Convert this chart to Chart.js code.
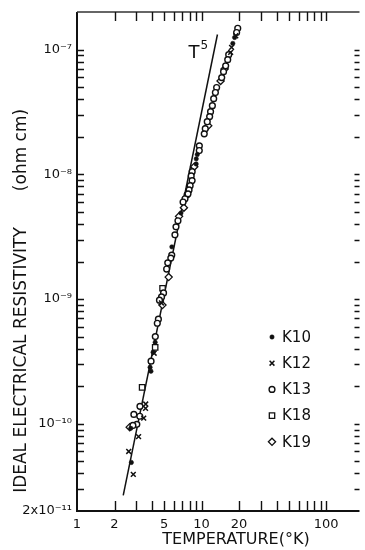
<!DOCTYPE html>
<html><head><meta charset="utf-8">
<script src="https://cdn.jsdelivr.net/npm/chart.js@4.4.1/dist/chart.umd.min.js"></script>
<style>html,body{margin:0;padding:0;background:#fff;overflow:hidden}canvas{display:block}</style>
</head><body>
<canvas id="c" width="365" height="550"></canvas>
<script>
// ---- data (temperature in K, ideal resistivity in ohm cm) ----
const seriesNames = ['K10', 'K12', 'K13', 'K18', 'K19'];

const k10T   = [18.4, 17.8, 9.23, 9.06, 9.05, 6.83, 5.77, 4.24, 4.08, 3.86, 3.92, 2.70, 2.73];
const k10Rho = [1.25e-7, 1.12e-7, 1.44e-8, 1.33e-8, 1.21e-8, 4.9e-9, 2.62e-9, 4.5e-10, 3.75e-10, 2.84e-10, 2.64e-10, 9.2e-11, 4.9e-11];

const k12T   = [18.8, 17.4, 17.1, 4.76, 4.16, 3.56, 3.55, 3.43, 3.12, 2.60, 2.83];
const k12Rho = [1.29e-7, 1.04e-7, 9.5e-8, 9.3e-10, 3.68e-10, 1.44e-10, 1.33e-10, 1.11e-10, 7.9e-11, 6.0e-11, 3.93e-11];

const k13T   = [19.5, 19.1, 16.5, 16.2, 15.6, 15.0, 14.5, 13.2, 12.9, 12.5, 12.2, 11.8, 11.6, 11.1, 10.7, 10.5,
                9.59, 9.58, 8.40, 8.25, 8.39, 8.09, 7.93, 7.65, 7.36, 7.78, 7.10, 6.46, 6.23, 6.11, 5.76, 5.66,
                5.35, 5.24, 4.95, 4.77, 4.59, 4.50, 4.41, 4.25, 3.93, 3.20, 2.86, 3.19, 3.02, 2.81];
const k13Rho = [1.48e-7, 1.37e-7, 9.1e-8, 8.3e-8, 7.4e-8, 6.65e-8, 5.96e-8, 4.96e-8, 4.52e-8, 4.04e-8, 3.55e-8, 3.18e-8, 2.90e-8, 2.64e-8, 2.32e-8, 2.11e-8,
                1.69e-8, 1.55e-8, 1.05e-8, 9.7e-9, 8.9e-9, 8.1e-9, 7.5e-9, 6.85e-9, 6.36e-9, 6.97e-9, 6.0e-9, 4.24e-9, 3.79e-9, 3.27e-9, 2.25e-9, 2.13e-9,
                1.95e-9, 1.74e-9, 1.12e-9, 1.04e-9, 9.8e-10, 6.9e-10, 6.4e-10, 5.0e-10, 3.18e-10, 1.38e-10, 1.19e-10, 1.15e-10, 9.9e-11, 9.7e-11];

const k18T   = [4.86, 4.24, 3.33];
const k18Rho = [1.22e-9, 4.1e-10, 1.96e-10];

const k19T   = [2.65, 15.3, 14.2, 11.3, 8.73, 7.21, 6.59, 5.44, 4.85];
const k19Rho = [9.4e-11, 7.0e-8, 5.6e-8, 2.45e-8, 1.15e-8, 5.4e-9, 4.6e-9, 1.5e-9, 8.95e-10];

// straight T^5 line
const lineT   = [2.35, 13.4];
const lineRho = [2.67e-11, 1.32e-7];
const lineLabel = 'T';
const lineLabelPower = '5';
const lineLabelAt = {x: 7.84, y: 8.63e-8};

// ---- axes ----
const xMin = 1, xMax = 185;
const yMin = 2e-11, yMax = 2e-7;
const xTickValues = [1,2,3,4,5,6,7,8,9,10,20,30,40,50,60,70,80,90,100];
const xLabelValues = [1, 2, 5, 10, 20, 100];
const xLabelTexts  = ['1', '2', '5', '10', '20', '100'];
const yTickValues = [2e-11,3e-11,4e-11,5e-11,6e-11,7e-11,8e-11,9e-11,
                     1e-10,2e-10,3e-10,4e-10,5e-10,6e-10,7e-10,8e-10,9e-10,
                     1e-9,2e-9,3e-9,4e-9,5e-9,6e-9,7e-9,8e-9,9e-9,
                     1e-8,2e-8,3e-8,4e-8,5e-8,6e-8,7e-8,8e-8,9e-8,
                     1e-7,2e-7];
const yLabelValues = [2e-11, 1e-10, 1e-9, 1e-8, 1e-7];
const yLabelTexts  = ['2x10\u207B\u00B9\u00B9', '10\u207B\u00B9\u2070', '10\u207B\u2079', '10\u207B\u2078', '10\u207B\u2077'];
const xTitle = 'TEMPERATURE(\u00B0K)';
const yTitleMain = 'IDEAL ELECTRICAL RESISTIVITY';
const yTitleUnit = '(ohm cm)';

const FONT = 'DejaVu Sans';
const INK = '#111';

function near(a, b) { return Math.abs(a - b) <= Math.abs(b) * 1e-6; }
function findLabel(v, vals, texts) {
  for (let i = 0; i < vals.length; i++) if (near(v, vals[i])) return texts[i];
  return '';
}
const mk = (T, R) => T.map((t, i) => ({x: t, y: R[i]}));

const styles = {
  K10: {pointStyle: 'circle', pointRadius: 2.2, backgroundColor: INK, borderColor: INK, borderWidth: 0.5},
  K12: {pointStyle: 'crossRot', pointRadius: 3.4, backgroundColor: INK, borderColor: INK, borderWidth: 1.5},
  K13: {pointStyle: 'circle', pointRadius: 2.9, backgroundColor: '#fff', borderColor: INK, borderWidth: 1.4},
  K18: {pointStyle: 'rect', pointRadius: 3.8, backgroundColor: '#fff', borderColor: INK, borderWidth: 1.3},
  K19: {pointStyle: 'rectRot', pointRadius: 3.6, backgroundColor: '#fff', borderColor: INK, borderWidth: 1.3}
};
const seriesData = {
  K10: mk(k10T, k10Rho), K12: mk(k12T, k12Rho), K13: mk(k13T, k13Rho),
  K18: mk(k18T, k18Rho), K19: mk(k19T, k19Rho)
};

const datasets = [
  {label: 'T5', type: 'line', data: mk(lineT, lineRho), borderColor: INK, borderWidth: 1.5,
   pointRadius: 0, fill: false, showLine: true, order: 10}
].concat(seriesNames.map(n => Object.assign({label: n, data: seriesData[n], order: 1}, styles[n])));

const framePlugin = {
  id: 'frame',
  afterDraw(chart) {
    const {ctx, chartArea: a, scales: {x, y}} = chart;
    ctx.save();
    ctx.strokeStyle = INK;
    ctx.lineCap = 'butt';
    // frame
    ctx.lineWidth = 2;
    ctx.beginPath();
    ctx.moveTo(a.left, a.top); ctx.lineTo(a.left, a.bottom); ctx.lineTo(a.right, a.bottom);
    ctx.stroke();
    ctx.lineWidth = 1.3;
    ctx.strokeStyle = '#333';
    ctx.beginPath();
    ctx.moveTo(a.left, a.top); ctx.lineTo(a.right, a.top);
    ctx.stroke();
    // inward ticks
    ctx.strokeStyle = INK;
    ctx.lineWidth = 1.4;
    ctx.beginPath();
    x.ticks.forEach(t => {
      const px = Math.round(x.getPixelForValue(t.value)) + 0.5;
      if (px <= a.left + 2) return;
      ctx.moveTo(px, a.bottom); ctx.lineTo(px, a.bottom - 10);
      ctx.moveTo(px, a.top); ctx.lineTo(px, a.top + 9);
    });
    y.ticks.forEach(t => {
      const py = Math.round(y.getPixelForValue(t.value)) + 0.5;
      if (py >= a.bottom - 2 || py <= a.top + 2) return;
      ctx.moveTo(a.left, py); ctx.lineTo(a.left + 7, py);
      ctx.moveTo(a.right, py); ctx.lineTo(a.right - 5, py);
    });
    ctx.stroke();

    ctx.fillStyle = INK;
    // x title
    ctx.font = '16px "' + FONT + '"';
    ctx.textAlign = 'center';
    ctx.textBaseline = 'middle';
    ctx.fillText(xTitle, 236, 540);
    // y title
    ctx.save();
    ctx.translate(22, 0);
    ctx.rotate(-Math.PI / 2);
    ctx.font = '17px "' + FONT + '"';
    ctx.fillText(yTitleMain, -360, 0);
    ctx.fillText(yTitleUnit, -150, 0);
    ctx.restore();

    // T^5 label
    const lx = x.getPixelForValue(lineLabelAt.x), ly = y.getPixelForValue(lineLabelAt.y);
    ctx.textAlign = 'left';
    ctx.textBaseline = 'alphabetic';
    ctx.font = '18px "' + FONT + '"';
    ctx.fillText(lineLabel, lx, ly);
    ctx.font = '12px "' + FONT + '"';
    ctx.fillText(lineLabelPower, lx + 12, ly - 9);

    // legend
    const hasDP = Chart.helpers && Chart.helpers.drawPoint;
    seriesNames.forEach((n, i) => {
      const cy = 337 + i * 26.2, cx = 272;
      const s = styles[n];
      ctx.fillStyle = s.backgroundColor;
      ctx.strokeStyle = s.borderColor;
      ctx.lineWidth = s.borderWidth;
      if (hasDP) {
        Chart.helpers.drawPoint(ctx, {pointStyle: s.pointStyle, radius: s.pointRadius, rotation: 0, borderWidth: s.borderWidth}, cx, cy);
      }
      ctx.fillStyle = INK;
      ctx.font = '15px "' + FONT + '"';
      ctx.textAlign = 'left';
      ctx.textBaseline = 'middle';
      ctx.fillText(n, 282, cy + 1);
    });
    ctx.restore();
  }
};

new Chart(document.getElementById('c').getContext('2d'), {
  type: 'scatter',
  data: {datasets},
  options: {
    responsive: false,
    animation: false,
    events: [],
    layout: {padding: {top: 12, right: 0, left: 0, bottom: 0}},
    plugins: {legend: {display: false}, tooltip: {enabled: false}},
    scales: {
      x: {
        type: 'logarithmic', min: xMin, max: xMax,
        afterBuildTicks: s => { s.ticks = xTickValues.map(v => ({value: v})); },
        afterFit: s => { s.height = 39; s.paddingLeft = 0; s.paddingRight = 0; },
        grid: {display: false, drawTicks: false},
        border: {display: false},
        ticks: {autoSkip: false, maxRotation: 0, minRotation: 0, padding: 6, color: INK,
                font: {family: FONT, size: 13},
                callback: v => findLabel(v, xLabelValues, xLabelTexts)}
      },
      y: {
        type: 'logarithmic', min: yMin, max: yMax,
        afterBuildTicks: s => { s.ticks = yTickValues.map(v => ({value: v})); },
        afterFit: s => { s.width = 77; s.paddingTop = 0; s.paddingBottom = 0; },
        grid: {display: false, drawTicks: false},
        border: {display: false},
        ticks: {autoSkip: false, padding: 5, color: INK,
                font: {family: FONT, size: 13},
                callback: v => findLabel(v, yLabelValues, yLabelTexts)}
      }
    }
  },
  plugins: [framePlugin]
});
</script>
</body></html>
